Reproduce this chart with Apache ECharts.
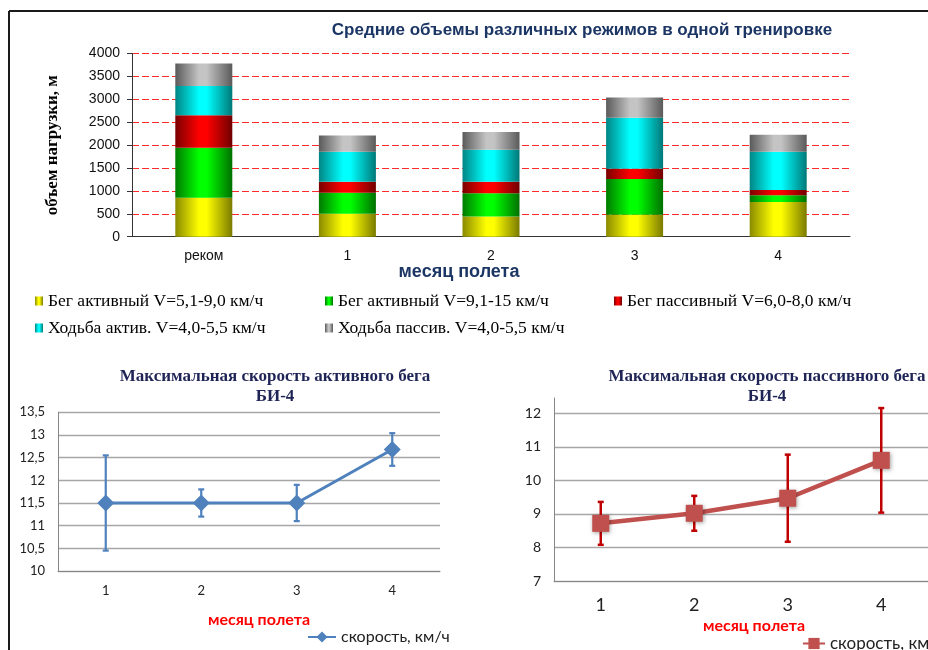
<!DOCTYPE html>
<html><head><meta charset="utf-8">
<script src="https://cdn.jsdelivr.net/npm/echarts@6/dist/echarts.min.js"></script>
<style>html,body{margin:0;padding:0;background:#fff}#c{width:928px;height:650px}</style>
</head><body><div id="c"></div>
<script>
// ---------- data: top chart (stacked volumes, m) ----------
const volCategories = ['реком', '1', '2', '3', '4'];
const runActiveSlow = [850, 500, 440, 480, 760];   // Бег активный V=5,1-9,0 км/ч
const runActiveFast = [1090, 460, 510, 780, 145];  // Бег активный V=9,1-15 км/ч
const runPassive    = [710, 240, 250, 225, 115];   // Бег пассивный V=6,0-8,0 км/ч
const walkActive    = [640, 655, 700, 1110, 835];  // Ходьба актив. V=4,0-5,5 км/ч
const walkPassive   = [490, 355, 385, 445, 370];   // Ходьба пассив. V=4,0-5,5 км/ч
const volNames = ['Бег активный V=5,1-9,0 км/ч', 'Бег активный V=9,1-15 км/ч', 'Бег пассивный V=6,0-8,0 км/ч',
                  'Ходьба актив. V=4,0-5,5 км/ч', 'Ходьба пассив. V=4,0-5,5 км/ч'];
const volAxis = [0, 4000, 500];

// ---------- data: bottom charts (speed, km/h, with error) ----------
const months = ['1', '2', '3', '4'];
const activeSpeed = [11.5, 11.5, 11.5, 12.68];
const activeErr   = [1.05, 0.3, 0.4, 0.36];
const activeAxis  = [10, 13.5, 0.5];
const passiveSpeed = [8.72, 9.02, 9.47, 10.6];
const passiveErr   = [0.64, 0.52, 1.3, 1.56];
const passiveAxis  = [7, 12.46, 1];

const SANS = "'Liberation Sans', Arial, sans-serif";
const SERIF = "'Liberation Serif', 'Times New Roman', serif";
const CAL = "Lato, 'Liberation Sans', sans-serif";

function grad(c0, c1, c2) {
  return new echarts.graphic.LinearGradient(0, 0, 1, 0, [
    {offset: 0, color: c0}, {offset: 0.42, color: c1}, {offset: 0.55, color: c1}, {offset: 1, color: c2}]);
}
const volColors = [
  grad('#8a8a00', '#ffff00', '#7a7a00'),
  grad('#007a00', '#00ff00', '#007000'),
  grad('#7a0000', '#ff0000', '#700000'),
  grad('#008585', '#00ffff', '#007878'),
  grad('#5a5a5a', '#c4c4c4', '#5a5a5a')
];
const volData = [runActiveSlow, runActiveFast, runPassive, walkActive, walkPassive];

const comma = v => String(v).replace('.', ',');

function errSeries(xi, vals, errs, color, cap, width) {
  return {
    type: 'custom', xAxisIndex: xi, yAxisIndex: xi, z: 3, silent: true, clip: false,
    data: vals.map((v, i) => [i, v - errs[i], v + errs[i]]),
    renderItem(params, api) {
      const x = api.value(0);
      const lo = api.coord([x, api.value(1)]);
      const hi = api.coord([x, api.value(2)]);
      const st = {stroke: color, lineWidth: width};
      return {type: 'group', children: [
        {type: 'line', shape: {x1: lo[0], y1: lo[1], x2: hi[0], y2: hi[1]}, style: st},
        {type: 'line', shape: {x1: lo[0] - cap, y1: lo[1], x2: lo[0] + cap, y2: lo[1]}, style: st},
        {type: 'line', shape: {x1: hi[0] - cap, y1: hi[1], x2: hi[0] + cap, y2: hi[1]}, style: st}
      ]};
    }
  };
}

const chart = echarts.init(document.getElementById('c'), null, {renderer: 'canvas'});

const series = volData.map((d, i) => ({
  name: volNames[i], type: 'bar', stack: 'vol', xAxisIndex: 0, yAxisIndex: 0,
  barWidth: 57, data: d, itemStyle: {color: volColors[i]}, silent: true
}));
series.push({
  name: 'act', type: 'line', xAxisIndex: 1, yAxisIndex: 1, data: activeSpeed, z: 4,
  symbol: 'diamond', symbolSize: 17, lineStyle: {color: '#4f81bd', width: 3},
  itemStyle: {color: '#4f81bd'}, silent: true
});
series.push(errSeries(1, activeSpeed, activeErr, '#4f81bd', 3, 2.2));
series.push({
  name: 'pas', type: 'line', xAxisIndex: 2, yAxisIndex: 2, data: passiveSpeed, z: 4,
  symbol: 'rect', symbolSize: 17, lineStyle: {color: '#c0504d', width: 4.5},
  itemStyle: {color: '#c0504d', shadowBlur: 4, shadowColor: 'rgba(0,0,0,0.35)', shadowOffsetX: 1, shadowOffsetY: 1},
  silent: true
});
series.push(errSeries(2, passiveSpeed, passiveErr, '#c00000', 3, 2.5));

const grayAxis = {lineStyle: {color: '#868686', width: 1}};
const volLegendText = {fontFamily: SERIF, fontSize: 17.5, color: '#000', lineHeight: 17};
const volLegendBase = {orient: 'vertical', top: 287, itemGap: 9, icon: 'rect', itemWidth: 8, itemHeight: 9,
  selectedMode: false, textStyle: volLegendText};

const option = {
  animation: false,
  backgroundColor: '#fff',
  grid: [
    {left: 132, top: 53.5, width: 718, height: 183.2},
    {left: 58, top: 412.3, width: 382, height: 158.7},
    {left: 554, top: 398, width: 377, height: 183}
  ],
  xAxis: [
    {gridIndex: 0, type: 'category', data: volCategories,
      axisLine: {lineStyle: {color: '#333', width: 1}},
      axisTick: {length: 5, lineStyle: {color: '#333'}},
      axisLabel: {color: '#111', fontFamily: SANS, fontSize: 14, margin: 12}},
    {gridIndex: 1, type: 'category', data: months,
      axisLine: grayAxis, axisTick: {length: 5, lineStyle: {color: '#868686'}},
      axisLabel: {color: '#222', fontFamily: CAL, fontSize: 13, margin: 13}},
    {gridIndex: 2, type: 'category', data: months,
      axisLine: grayAxis, axisTick: {length: 5, lineStyle: {color: '#868686'}},
      axisLabel: {color: '#222', fontFamily: CAL, fontSize: 18, margin: 15}}
  ],
  yAxis: [
    {gridIndex: 0, type: 'value', min: volAxis[0], max: volAxis[1], interval: volAxis[2],
      name: 'объем нагрузки, м', nameLocation: 'middle', nameRotate: 90, nameGap: 71,
      nameTextStyle: {fontFamily: SERIF, fontWeight: 'bold', fontSize: 17, color: '#000'},
      axisLine: {show: true, lineStyle: {color: '#333', width: 1}},
      axisTick: {show: true, length: 5, lineStyle: {color: '#333'}},
      axisLabel: {color: '#111', fontFamily: SANS, fontSize: 14, margin: 12, formatter: v => String(v)},
      splitLine: {lineStyle: {color: '#ff2a2a', type: [7, 3], width: 1}}},
    {gridIndex: 1, type: 'value', min: activeAxis[0], max: activeAxis[1], interval: activeAxis[2],
      axisLine: {show: true, lineStyle: {color: '#868686'}}, axisTick: {show: false},
      axisLabel: {color: '#222', fontFamily: CAL, fontSize: 13, margin: 13, formatter: comma},
      splitLine: {lineStyle: {color: '#a6a6a6', width: 1.3}}},
    {gridIndex: 2, type: 'value', min: passiveAxis[0], max: passiveAxis[1], interval: passiveAxis[2],
      axisLine: {show: true, lineStyle: {color: '#868686'}}, axisTick: {show: false},
      axisLabel: {color: '#222', fontFamily: CAL, fontSize: 14, margin: 13, showMaxLabel: false, formatter: comma},
      splitLine: {showMaxLine: false, lineStyle: {color: '#a6a6a6', width: 1.3}}}
  ],
  legend: [
    Object.assign({data: [volNames[0], volNames[3]], left: 30}, volLegendBase),
    Object.assign({data: [volNames[1], volNames[4]], left: 320}, volLegendBase),
    Object.assign({data: [volNames[2]], left: 609}, volLegendBase),
    {data: ['act'], left: 302, top: 624, itemWidth: 28, itemHeight: 14, selectedMode: false,
      formatter: () => 'скорость, км/ч',
      textStyle: {fontFamily: CAL, fontSize: 16, color: '#222'}},
    {data: ['pas'], left: 797, top: 630, itemWidth: 22, itemHeight: 14, selectedMode: false,
      formatter: () => 'скорость, км/ч',
      textStyle: {fontFamily: CAL, fontSize: 17, color: '#222'}}
  ],
  graphic: [
    {type: 'line', shape: {x1: 9, y1: 11, x2: 928, y2: 11}, style: {stroke: '#1a1a1a', lineWidth: 2}},
    {type: 'line', shape: {x1: 9, y1: 11, x2: 9, y2: 650}, style: {stroke: '#1a1a1a', lineWidth: 2}},
    {type: 'text', x: 582, y: 30, style: {text: 'Средние объемы различных режимов в одной тренировке',
      font: "bold 17px 'Liberation Sans', Arial, sans-serif", fill: '#1b3564', textAlign: 'center', textVerticalAlign: 'middle', align: 'center', verticalAlign: 'middle'}},
    {type: 'text', x: 459, y: 272, style: {text: 'месяц полета',
      font: "bold 18px 'Liberation Sans', Arial, sans-serif", fill: '#1b3564', textAlign: 'center', textVerticalAlign: 'middle', align: 'center', verticalAlign: 'middle'}},
    {type: 'text', x: 275, y: 377, style: {text: 'Максимальная скорость активного бега',
      font: "bold 17px 'Liberation Serif', serif", fill: '#1f2456', textAlign: 'center', textVerticalAlign: 'middle', align: 'center', verticalAlign: 'middle'}},
    {type: 'text', x: 275, y: 397, style: {text: 'БИ-4',
      font: "bold 17px 'Liberation Serif', serif", fill: '#1f2456', textAlign: 'center', textVerticalAlign: 'middle', align: 'center', verticalAlign: 'middle'}},
    {type: 'text', x: 767, y: 377, style: {text: 'Максимальная скорость пассивного бега',
      font: "bold 17px 'Liberation Serif', serif", fill: '#1f2456', textAlign: 'center', textVerticalAlign: 'middle', align: 'center', verticalAlign: 'middle'}},
    {type: 'text', x: 767, y: 397, style: {text: 'БИ-4',
      font: "bold 17px 'Liberation Serif', serif", fill: '#1f2456', textAlign: 'center', textVerticalAlign: 'middle', align: 'center', verticalAlign: 'middle'}},
    {type: 'text', x: 259, y: 620, style: {text: 'месяц полета',
      font: "bold 16px Lato, 'Liberation Sans', sans-serif", fill: '#ff0000', textAlign: 'center', textVerticalAlign: 'middle', align: 'center', verticalAlign: 'middle'}},
    {type: 'text', x: 754, y: 626, style: {text: 'месяц полета',
      font: "bold 16px Lato, 'Liberation Sans', sans-serif", fill: '#ff0000', textAlign: 'center', textVerticalAlign: 'middle', align: 'center', verticalAlign: 'middle'}}
  ],
  series: series
};
chart.setOption(option);
</script>
</body></html>
